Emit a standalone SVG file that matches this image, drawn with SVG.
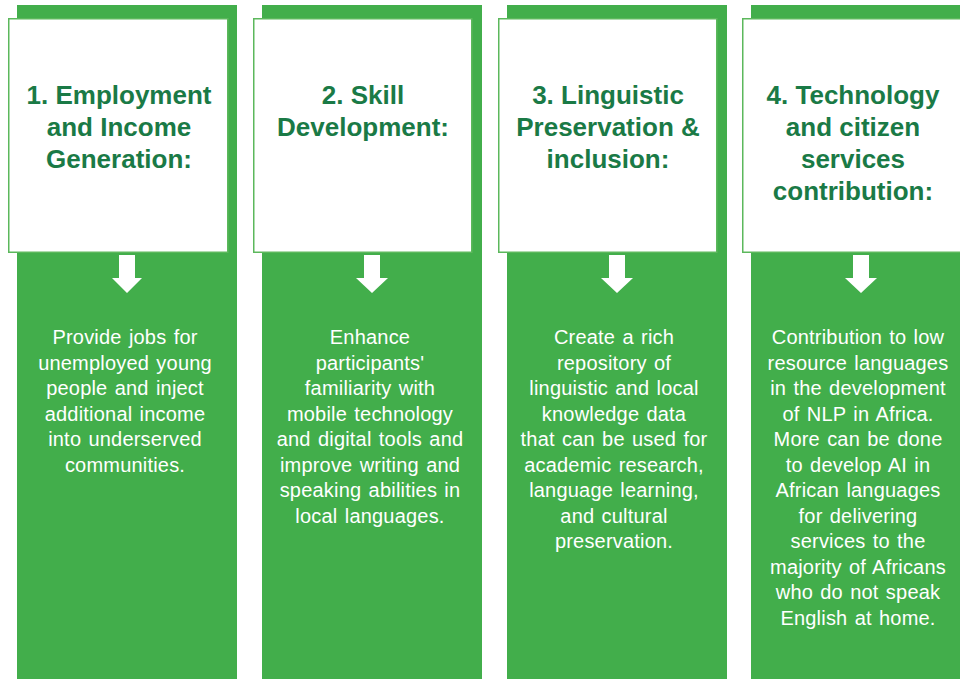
<svg xmlns="http://www.w3.org/2000/svg" width="960" height="679" viewBox="0 0 960 679">
<style>
.col{fill:#42ae4b}
.box{fill:#ffffff;stroke:#5cb85c;stroke-width:1.5}
.hd{font-family:"Liberation Sans",Arial,sans-serif;font-weight:bold;font-size:26px;fill:#1a7a46;text-anchor:middle}
.bd{font-family:"Liberation Sans",Arial,sans-serif;font-size:20px;fill:#ffffff;text-anchor:middle;letter-spacing:0.2px;word-spacing:1.5px}
.arr{fill:#ffffff}
</style>
<rect width="960" height="679" fill="#ffffff"/>
<g id="col1">
<rect class="col" x="17" y="5" width="220" height="674"/>
<rect class="box" x="8.75" y="18.75" width="219" height="233.5"/>
<text class="hd" x="119"><tspan x="119" y="104">1. Employment</tspan><tspan x="119" y="136">and Income</tspan><tspan x="119" y="168">Generation:</tspan></text>
<text class="bd"><tspan x="125" y="344">Provide jobs for</tspan><tspan x="125" y="369.5">unemployed young</tspan><tspan x="125" y="395">people and inject</tspan><tspan x="125" y="420.5">additional income</tspan><tspan x="125" y="446">into underserved</tspan><tspan x="125" y="471.5">communities.</tspan></text>
</g>
<g id="col2">
<rect class="col" x="262" y="5" width="220" height="674"/>
<rect class="box" x="253.75" y="18.75" width="218" height="233.5"/>
<text class="hd"><tspan x="363" y="104">2. Skill</tspan><tspan x="363" y="136">Development:</tspan></text>
<text class="bd"><tspan x="370" y="344">Enhance</tspan><tspan x="370" y="369.5">participants'</tspan><tspan x="370" y="395">familiarity with</tspan><tspan x="370" y="420.5">mobile technology</tspan><tspan x="370" y="446">and digital tools and</tspan><tspan x="370" y="471.5">improve writing and</tspan><tspan x="370" y="497">speaking abilities in</tspan><tspan x="370" y="522.5">local languages.</tspan></text>
</g>
<g id="col3">
<rect class="col" x="507" y="5" width="220" height="674"/>
<rect class="box" x="498.75" y="18.75" width="218" height="233.5"/>
<text class="hd"><tspan x="608" y="104">3. Linguistic</tspan><tspan x="608" y="136">Preservation &amp;</tspan><tspan x="608" y="168">inclusion:</tspan></text>
<text class="bd"><tspan x="614" y="344">Create a rich</tspan><tspan x="614" y="369.5">repository of</tspan><tspan x="614" y="395">linguistic and local</tspan><tspan x="614" y="420.5">knowledge data</tspan><tspan x="614" y="446">that can be used for</tspan><tspan x="614" y="471.5">academic research,</tspan><tspan x="614" y="497">language learning,</tspan><tspan x="614" y="522.5">and cultural</tspan><tspan x="614" y="548">preservation.</tspan></text>
</g>
<g id="col4">
<rect class="col" x="751" y="5" width="220" height="674"/>
<rect class="box" x="742.75" y="18.75" width="219" height="233.5"/>
<text class="hd"><tspan x="853" y="104">4. Technology</tspan><tspan x="853" y="136">and citizen</tspan><tspan x="853" y="168">services</tspan><tspan x="853" y="200">contribution:</tspan></text>
<text class="bd"><tspan x="858" y="344">Contribution to low</tspan><tspan x="858" y="369.5">resource languages</tspan><tspan x="858" y="395">in the development</tspan><tspan x="858" y="420.5">of NLP in Africa.</tspan><tspan x="858" y="446">More can be done</tspan><tspan x="858" y="471.5">to develop AI in</tspan><tspan x="858" y="497">African languages</tspan><tspan x="858" y="522.5">for delivering</tspan><tspan x="858" y="548">services to the</tspan><tspan x="858" y="573.5">majority of Africans</tspan><tspan x="858" y="599">who do not speak</tspan><tspan x="858" y="624.5">English at home.</tspan></text>
</g>
<g id="connectors">
<path class="arr" d="M120 255 H136 V278 H143 L128 293 L113 278 H120 Z" transform="translate(-1,0)"/>
<path class="arr" d="M364 255 H380 V278 H388 L372 293 L356 278 H364 Z"/>
<path class="arr" d="M609 255 H625 V278 H633 L617 293 L601 278 H609 Z"/>
<path class="arr" d="M853 255 H869 V278 H877 L861 293 L845 278 H853 Z"/>
</g>
</svg>
